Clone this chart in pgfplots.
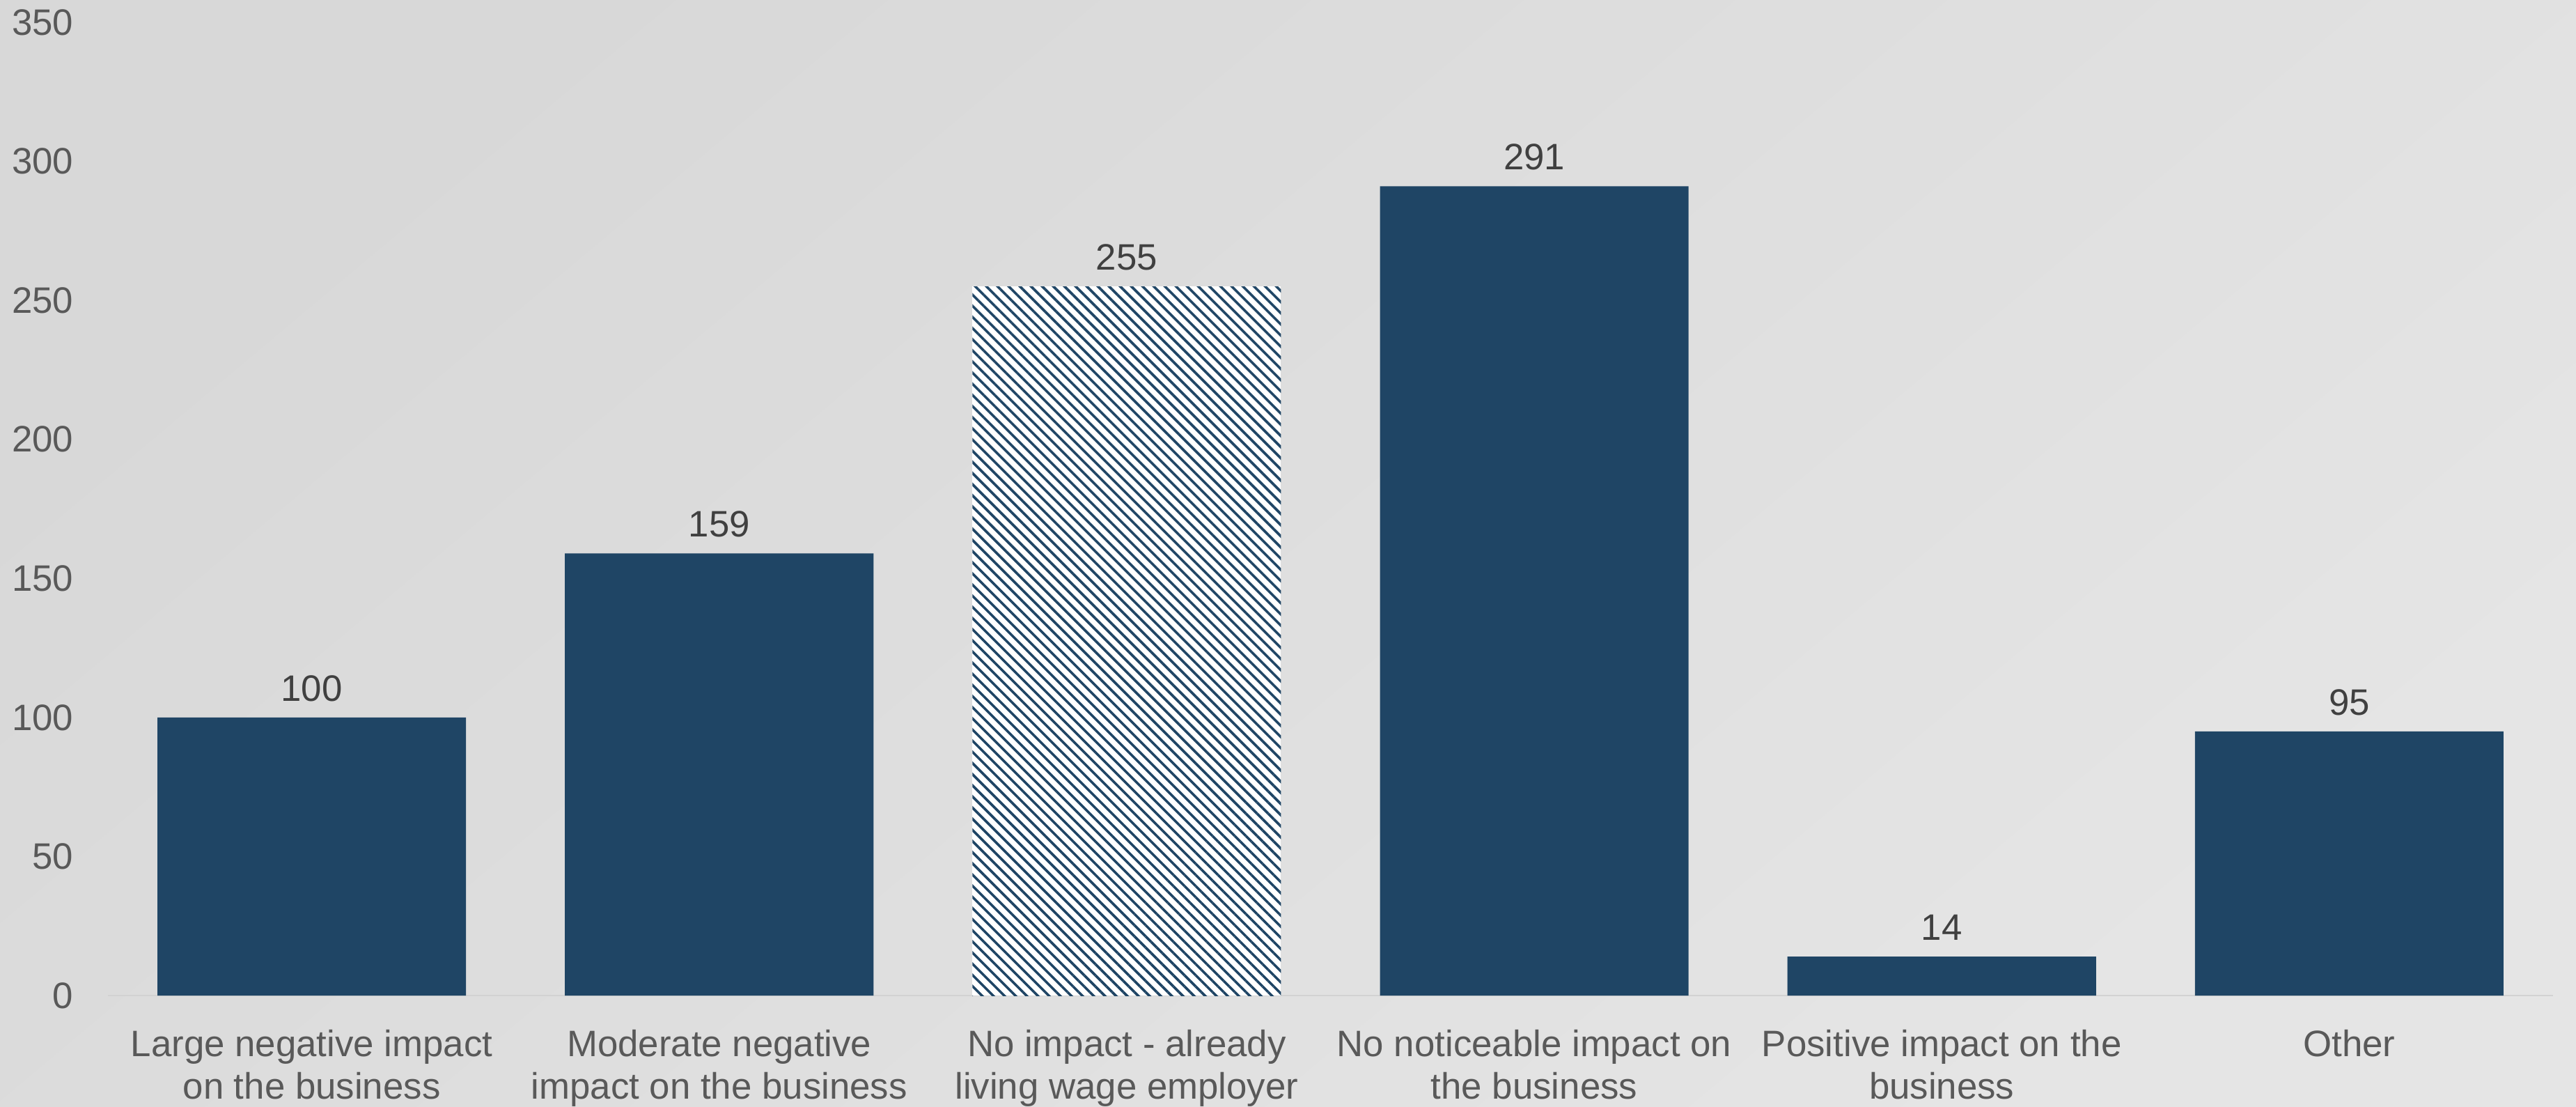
\documentclass[border=0pt]{standalone}
\usepackage{pgfplots}
\pgfplotsset{compat=1.18}
\usepackage{fontspec}
\setmainfont{Liberation Sans}
\usetikzlibrary{patterns.meta}
\definecolor{barc}{HTML}{1F4565}
\definecolor{tickc}{HTML}{595959}
\definecolor{lblc}{HTML}{404040}
\definecolor{bgA}{HTML}{D8D8D8}
\definecolor{bgB}{HTML}{E5E5E5}
\definecolor{basec}{HTML}{D2D2D2}
\begin{document}
\begin{tikzpicture}
\shade[top color=bgA, bottom color=bgB, shading angle=40] (0,0) rectangle (924.75pt,397pt);
\begin{axis}[
  at={(38.75pt,39.75pt)}, anchor=south west,
  width=877.75pt, height=349.25pt, scale only axis,
  xmin=-0.5, xmax=5.5, ymin=0, ymax=350,
  ytick={0,50,...,350},
  xtick={0,...,5},
  xticklabels={{Large negative impact\\on the business},{Moderate negative\\impact on the business},{No impact - already\\living wage employer},{No noticeable impact on\\the business},{Positive impact on the\\business},{Other}},
  /pgf/number format/assume math mode=true,
  axis line style={draw=none},
  major tick length=0pt,
  extra y ticks={0},
  extra y tick labels={},
  extra y tick style={grid=major, grid style={basec, line width=0.6pt}},
  yticklabel style={font=\fontsize{13.2}{15.25}\selectfont, text=tickc, anchor=east, inner sep=0pt, xshift=-12.25pt},
  xticklabel style={font=\fontsize{13.2}{15.25}\selectfont, text=tickc, anchor=north, align=center, inner sep=0pt, yshift=-12pt},
  ybar, bar width=110.75pt,
  nodes near coords,
  every node near coord/.append style={font=\fontsize{13.2}{15.25}\selectfont, text=lblc, anchor=south, inner sep=0pt, yshift=5.6pt},
  clip=false,
]
\addplot[bar shift=0pt, fill=barc, draw=none] coordinates {(0,100) (1,159) (3,291) (4,14) (5,95)};
\addplot[bar shift=0pt, fill=white, draw=none, postaction={pattern={Lines[angle=-45,distance=2.83pt,line width=0.9pt]}, pattern color=barc}] coordinates {(2,255)};
\end{axis}
\pgfresetboundingbox
\path (0,0) rectangle (924.75pt,397pt);
\end{tikzpicture}
\end{document}
